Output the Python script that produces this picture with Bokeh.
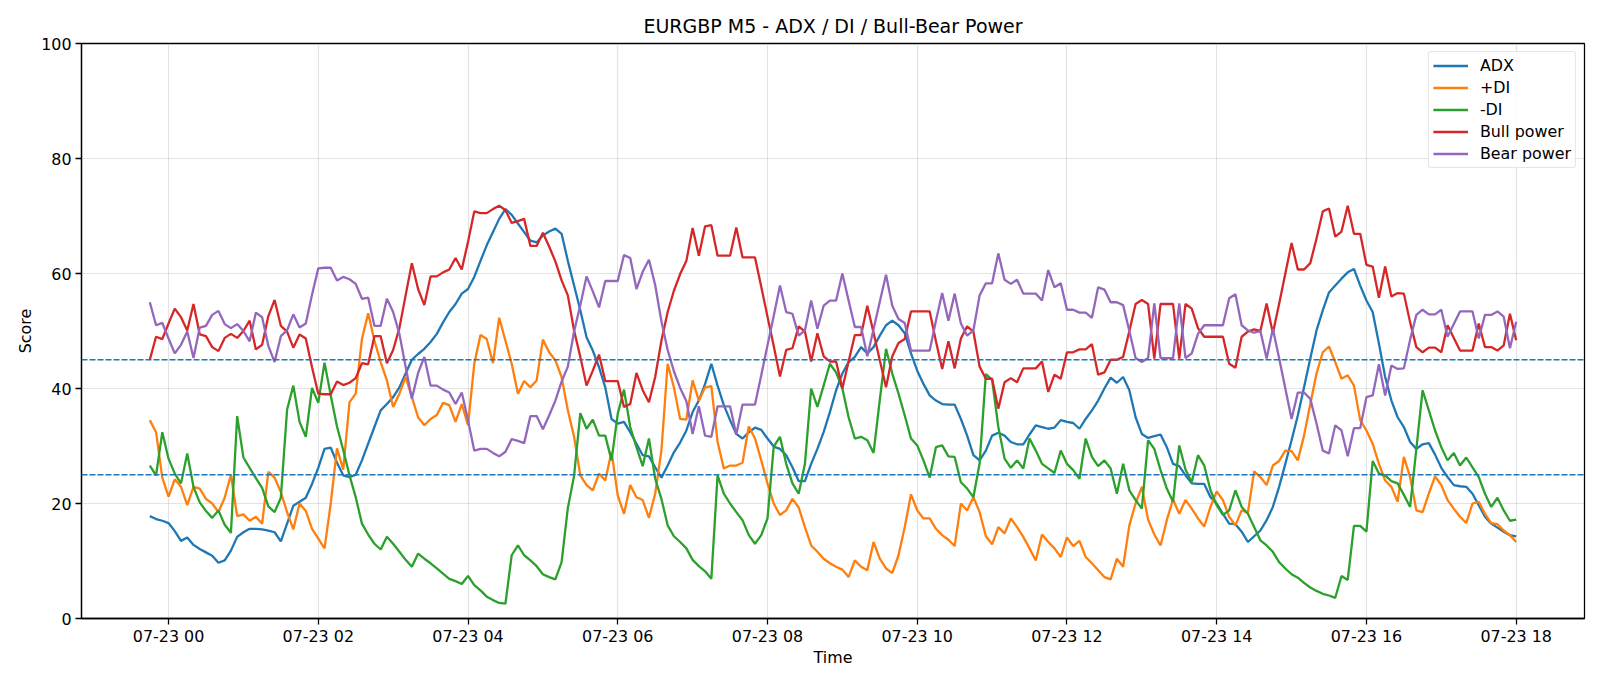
import pandas as pd
from bokeh.plotting import figure
from bokeh.models import (ColumnDataSource, Range1d, FixedTicker, DatetimeTickFormatter,
                          Span, Legend, LegendItem)
from bokeh.embed import file_html
from bokeh.resources import INLINE

# ---------------- data (5-minute bars, 07-22 23:45 .. 07-23 18:00) ----------------
start_time = "2025-07-22 23:45"
n_points = 220

adx = [
    17.8, 17.3, 17.0, 16.6, 15.2, 13.5, 14.1, 12.8, 12.1, 11.5, 10.9, 9.7, 10.1, 11.8, 14.2, 15.0, 15.6, 15.6, 15.5, 15.3, 15.0,
    13.4, 16.5, 19.6, 20.3, 21.0, 23.4, 26.2, 29.5, 29.7, 27.1, 24.9, 24.6, 25.0, 27.5, 30.4, 33.3, 36.2, 37.3, 38.5, 40.2, 42.6, 45.0, 46.0,
    46.9, 48.1, 49.5, 51.5, 53.3, 54.7, 56.5, 57.3, 59.4, 62.2, 64.9, 67.2, 69.5, 71.2, 70.2, 68.7, 67.2, 65.7, 65.4, 66.6, 67.3, 67.8,
    66.9, 62.2, 57.9, 53.6, 48.9, 46.6, 43.7, 40.2, 34.7, 33.9, 34.2, 32.4, 30.4, 28.4, 28.2, 26.3, 24.5, 26.6, 28.9, 30.6, 32.7, 35.9, 37.9,
    40.8, 44.3, 40.5, 37.1, 34.5, 32.1, 31.3, 32.4, 33.2, 32.8, 31.3, 29.9, 29.5, 28.4, 26.3, 23.9, 23.9, 26.9, 29.5, 32.4, 35.9, 39.7,
    42.6, 44.6, 45.5, 47.2, 46.1, 47.2, 49.2, 51.0, 51.8, 51.0, 49.6, 46.1, 43.1, 40.8, 38.8, 37.9, 37.3, 37.2, 37.2, 34.7, 31.8, 28.4, 27.5,
    29.2, 31.8, 32.3, 31.8, 30.7, 30.3, 30.3, 32.0, 33.6, 33.3, 33.0, 33.2, 34.5, 34.2, 34.0, 33.0, 34.7, 36.2, 37.9, 40.0, 41.9, 41.0,
    42.0, 39.7, 35.0, 32.1, 31.4, 31.7, 32.0, 29.8, 26.9, 26.5, 24.9, 23.5, 23.4, 23.4, 21.1, 20.0, 18.2, 16.5, 16.4, 15.1, 13.3, 14.3, 15.3,
    17.1, 19.4, 22.9, 26.9, 31.0, 35.3, 40.2, 45.2, 50.1, 53.6, 56.7, 57.9, 59.1, 60.2, 60.8, 57.9, 55.3, 53.3, 47.8, 42.0, 37.9, 35.0,
    33.3, 30.7, 29.5, 30.3, 30.5, 28.5, 26.2, 24.6, 23.2, 23.0, 22.9, 21.7, 19.7, 17.7, 16.5, 15.8, 15.1, 14.5, 14.3,
]

plus_di = [
    34.5, 32.4, 24.5, 21.2, 24.2, 22.9, 19.7, 22.9, 22.6, 20.8, 20.0, 18.5, 21.0, 25.0, 17.8, 18.1, 17.0, 17.7, 16.5, 25.5, 24.5,
    22.0, 18.5, 15.5, 20.0, 18.7, 15.6, 13.9, 12.2, 20.0, 29.6, 25.9, 37.6, 39.1, 48.6, 53.1, 48.3, 44.6, 41.4, 36.8, 39.1, 42.0, 38.5, 35.0,
    33.6, 34.7, 35.4, 37.5, 37.1, 34.2, 37.3, 33.6, 44.3, 49.3, 48.6, 44.4, 52.3, 48.3, 44.3, 39.1, 41.3, 40.2, 41.4, 48.5, 46.3, 44.9,
    42.0, 36.2, 31.6, 24.9, 23.2, 22.3, 25.2, 24.0, 29.0, 21.4, 18.2, 23.2, 21.1, 20.6, 17.5, 21.7, 29.2, 44.3, 40.2, 34.7, 34.6, 41.4, 37.9,
    40.2, 40.4, 30.7, 26.1, 26.6, 26.6, 27.1, 33.4, 31.3, 27.5, 23.5, 20.0, 18.0, 18.8, 20.8, 19.3, 15.9, 12.7, 11.6, 10.4, 9.6, 9.0,
    8.5, 7.2, 10.1, 9.0, 8.4, 13.3, 10.4, 8.7, 7.9, 11.0, 15.9, 21.6, 18.8, 17.4, 17.4, 15.6, 14.5, 13.7, 12.6, 20.0, 18.8, 21.1, 18.5,
    14.3, 12.9, 15.9, 14.8, 17.4, 15.9, 14.2, 12.2, 10.1, 14.6, 13.3, 12.2, 10.7, 14.1, 12.6, 13.5, 10.7, 9.6, 8.4, 7.2, 6.8, 10.4,
    9.0, 16.2, 20.0, 22.9, 17.2, 14.6, 12.7, 17.1, 20.7, 18.2, 20.6, 19.1, 17.4, 16.0, 19.4, 22.1, 20.6, 17.7, 16.2, 18.8, 18.4, 25.6, 24.6,
    23.2, 26.6, 27.4, 29.2, 29.1, 27.5, 31.8, 37.3, 42.6, 46.3, 47.3, 44.6, 41.7, 42.3, 40.5, 34.5, 32.7, 30.4, 26.9, 24.0, 22.9, 20.3,
    28.1, 24.6, 18.8, 18.5, 21.7, 24.7, 23.2, 20.6, 19.1, 17.7, 16.6, 20.0, 20.3, 18.2, 16.6, 16.4, 15.3, 14.5, 13.3,
]

minus_di = [
    26.6, 24.9, 32.4, 27.8, 25.2, 23.5, 28.7, 22.9, 20.2, 18.7, 17.5, 18.8, 16.3, 14.9, 35.2, 28.0, 26.2, 24.4, 22.7, 19.5, 18.5,
    21.0, 36.3, 40.5, 34.2, 31.6, 40.1, 37.5, 44.5, 38.8, 33.4, 29.3, 24.9, 21.1, 16.5, 14.6, 13.0, 12.0, 14.2, 13.0, 11.6, 10.2, 9.0, 11.3,
    10.4, 9.6, 8.7, 7.8, 6.9, 6.5, 6.0, 7.4, 5.8, 4.9, 3.8, 3.2, 2.7, 2.6, 11.0, 12.7, 11.0, 10.1, 9.1, 7.7, 7.2, 6.8,
    9.8, 19.2, 24.8, 35.7, 33.0, 34.6, 31.8, 31.8, 27.5, 35.6, 39.8, 33.3, 29.8, 26.5, 31.3, 24.3, 20.8, 16.2, 14.3, 13.3, 12.2, 10.2, 9.1,
    8.2, 6.9, 24.9, 21.7, 20.0, 18.5, 17.1, 14.5, 13.0, 14.5, 17.4, 29.9, 31.6, 26.9, 23.5, 21.7, 26.9, 40.0, 36.8, 40.5, 44.3, 42.8,
    40.0, 35.0, 31.3, 31.6, 31.0, 28.8, 38.0, 46.9, 42.6, 39.1, 35.3, 31.3, 30.1, 27.5, 24.5, 29.8, 30.1, 28.2, 28.1, 23.7, 22.6, 21.1, 27.0,
    42.5, 41.5, 33.3, 27.8, 26.2, 27.5, 26.1, 31.3, 29.2, 26.9, 26.1, 25.3, 29.2, 26.9, 25.8, 24.3, 31.3, 28.1, 26.5, 27.5, 26.1, 21.7,
    26.9, 22.3, 20.6, 19.1, 31.0, 29.5, 25.8, 22.6, 20.3, 30.1, 25.9, 23.7, 28.4, 26.6, 22.3, 19.7, 18.0, 18.8, 22.3, 19.4, 18.2, 15.9, 13.6,
    12.7, 11.6, 9.8, 8.7, 7.7, 7.1, 6.2, 5.4, 4.8, 4.3, 4.0, 3.6, 7.4, 6.7, 16.1, 16.1, 15.1, 27.4, 25.2, 24.9, 23.9, 23.5,
    21.5, 19.4, 29.5, 39.7, 36.2, 32.7, 29.8, 27.5, 28.8, 26.6, 28.0, 26.3, 24.6, 21.7, 19.4, 21.0, 18.8, 17.0, 17.2,
]

bull_power = [
    45.0, 49.0, 48.6, 51.3, 53.9, 52.4, 50.1, 54.7, 49.4, 49.1, 47.2, 46.5, 48.8, 49.5, 48.8, 50.0, 51.8, 46.8, 47.6, 52.6, 55.4,
    50.9, 49.9, 47.1, 49.4, 48.7, 43.7, 39.1, 39.0, 39.0, 41.2, 40.6, 41.0, 41.8, 44.4, 44.2, 49.1, 49.1, 44.4, 46.7, 50.5, 56.2, 61.8, 57.3,
    54.5, 59.5, 59.5, 60.2, 60.7, 62.7, 60.7, 65.5, 70.8, 70.5, 70.5, 71.2, 71.8, 71.0, 68.8, 69.1, 69.5, 64.8, 64.8, 67.1, 64.7, 62.1,
    58.8, 56.2, 50.1, 45.5, 40.5, 43.1, 45.9, 41.3, 41.3, 41.3, 36.8, 37.3, 42.7, 39.7, 37.6, 42.0, 48.3, 53.3, 57.0, 59.9, 62.2, 67.9, 63.1,
    68.2, 68.4, 63.1, 63.1, 63.1, 68.0, 62.8, 62.8, 62.8, 57.7, 52.5, 47.4, 42.1, 46.7, 47.0, 50.8, 49.9, 44.7, 49.6, 45.6, 44.7, 44.7,
    40.0, 44.7, 49.3, 49.3, 54.4, 49.7, 44.9, 40.2, 45.6, 47.9, 48.6, 53.4, 53.4, 53.4, 53.4, 48.2, 43.4, 48.2, 43.5, 48.7, 50.8, 49.9, 43.8,
    41.7, 41.7, 36.5, 41.1, 41.8, 41.1, 43.5, 43.5, 43.5, 44.7, 39.4, 42.4, 41.7, 46.3, 46.3, 46.8, 46.8, 47.7, 42.4, 42.8, 45.0, 45.0,
    45.5, 50.0, 54.7, 55.4, 54.7, 45.2, 54.7, 54.7, 54.7, 45.2, 54.7, 53.9, 50.5, 49.0, 49.0, 49.0, 49.0, 44.3, 43.6, 49.0, 49.9, 50.3, 50.0,
    54.8, 49.6, 54.7, 60.0, 65.3, 60.7, 60.7, 61.8, 66.1, 70.8, 71.3, 66.4, 67.3, 71.8, 66.9, 66.9, 61.5, 61.2, 55.8, 61.2, 56.0, 56.6,
    56.5, 51.5, 47.2, 46.3, 47.1, 47.1, 46.3, 51.0, 48.8, 46.6, 46.6, 46.6, 51.3, 47.2, 47.2, 46.6, 47.5, 53.0, 48.4,
]

bear_power = [
    55.0, 51.0, 51.4, 48.7, 46.1, 47.6, 49.9, 45.3, 50.6, 50.9, 52.8, 53.5, 51.2, 50.5, 51.2, 50.0, 48.2, 53.2, 52.4, 47.4, 44.6,
    49.1, 50.1, 52.9, 50.6, 51.3, 56.3, 60.9, 61.0, 61.0, 58.8, 59.4, 59.0, 58.2, 55.6, 55.8, 50.9, 50.9, 55.6, 53.3, 49.5, 43.8, 38.2, 42.7,
    45.5, 40.5, 40.5, 39.8, 39.3, 37.3, 39.3, 34.5, 29.2, 29.5, 29.5, 28.8, 28.2, 29.0, 31.2, 30.9, 30.5, 35.2, 35.2, 32.9, 35.3, 37.9,
    41.2, 43.8, 49.9, 54.5, 59.5, 56.9, 54.1, 58.7, 58.7, 58.7, 63.2, 62.7, 57.3, 60.3, 62.4, 58.0, 51.7, 46.7, 43.0, 40.1, 37.8, 32.1, 36.9,
    31.8, 31.6, 36.9, 36.9, 36.9, 32.0, 37.2, 37.2, 37.2, 42.3, 47.5, 52.6, 57.9, 53.3, 53.0, 49.2, 50.1, 55.3, 50.4, 54.4, 55.3, 55.3,
    60.0, 55.3, 50.7, 50.7, 45.6, 50.3, 55.1, 59.8, 54.4, 52.1, 51.4, 46.6, 46.6, 46.6, 46.6, 51.8, 56.6, 51.8, 56.5, 51.3, 49.2, 50.1, 56.2,
    58.3, 58.3, 63.5, 58.9, 58.2, 58.9, 56.5, 56.5, 56.5, 55.3, 60.6, 57.6, 58.3, 53.7, 53.7, 53.2, 53.2, 52.3, 57.6, 57.2, 55.0, 55.0,
    54.5, 50.0, 45.3, 44.6, 45.3, 54.8, 45.3, 45.3, 45.3, 54.8, 45.3, 46.1, 49.5, 51.0, 51.0, 51.0, 51.0, 55.7, 56.4, 51.0, 50.1, 49.7, 50.0,
    45.2, 50.4, 45.3, 40.0, 34.7, 39.3, 39.3, 38.2, 33.9, 29.2, 28.7, 33.6, 32.7, 28.2, 33.1, 33.1, 38.5, 38.8, 44.2, 38.8, 44.0, 43.4,
    43.5, 48.5, 52.8, 53.7, 52.9, 52.9, 53.7, 49.0, 51.2, 53.4, 53.4, 53.4, 48.7, 52.8, 52.8, 53.4, 52.5, 47.0, 51.6,
]

series_names = ["ADX", "+DI", "-DI", "Bull power", "Bear power"]
series_colors = ["#1f77b4", "#ff7f0e", "#2ca02c", "#d62728", "#9467bd"]
threshold_levels = [45, 25]
y_ticks = [0, 20, 40, 60, 80, 100]
x_tick_hours = ["2025-07-23 %02d:00" % h for h in range(0, 19, 2)]

# ---------------- figure ----------------
times = pd.date_range(start_time, periods=n_points, freq="5min")
src = ColumnDataSource(dict(t=times, adx=adx, pdi=plus_di, mdi=minus_di,
                            bull=bull_power, bear=bear_power))

span = times[-1] - times[0]
FONT = "DejaVu Sans"
FS = "15.9px"

p = figure(width=1600, height=686, x_axis_type="datetime", output_backend="svg",
           toolbar_location=None,
           x_range=Range1d(times[0] - span * 0.05, times[-1] + span * 0.05),
           y_range=Range1d(0, 100),
           min_border_left=81, min_border_right=16, min_border_top=43, min_border_bottom=68,
           title="EURGBP M5 - ADX / DI / Bull-Bear Power")
p.background_fill_color = "white"
p.border_fill_color = "white"
p.outline_line_color = "black"
p.outline_line_width = 1.27

p.title.align = "center"
p.title.text_font = FONT
p.title.text_font_size = "19px"
p.title.text_font_style = "normal"
p.title.text_color = "black"
p.title.standoff = 13

tick_ms = [pd.Timestamp(s).value / 1e6 for s in x_tick_hours]
p.xaxis.ticker = FixedTicker(ticks=tick_ms)
fmt = "%m-%d %H"
p.xaxis.formatter = DatetimeTickFormatter(microseconds=fmt, milliseconds=fmt, seconds=fmt,
                                          minsec=fmt, minutes=fmt, hourmin=fmt, hours=fmt,
                                          days=fmt, months=fmt, years=fmt)
p.yaxis.ticker = FixedTicker(ticks=y_ticks)

for ax in (p.xaxis, p.yaxis):
    ax.axis_line_color = "black"
    ax.axis_line_width = 1.27
    ax.major_tick_line_color = "black"
    ax.major_tick_line_width = 1.27
    ax.major_tick_in = 0
    ax.major_tick_out = 6
    ax.minor_tick_line_color = None
    ax.major_label_text_font = FONT
    ax.major_label_text_font_size = FS
    ax.major_label_text_color = "black"
    ax.major_label_standoff = 4
    ax.axis_label_text_font = FONT
    ax.axis_label_text_font_size = FS
    ax.axis_label_text_font_style = "normal"
    ax.axis_label_text_color = "black"

p.xaxis.major_label_standoff = 2
p.xaxis.axis_label = "Time"
p.yaxis.axis_label = "Score"
p.xaxis.axis_label_standoff = -1
p.yaxis.axis_label_standoff = 3

for g in (p.xgrid, p.ygrid):
    g.grid_line_color = "#b0b0b0"
    g.grid_line_alpha = 0.35
    g.grid_line_width = 1.1

cols = ["adx", "pdi", "mdi", "bull", "bear"]
items = []
for col, name, color in zip(cols, series_names, series_colors):
    r = p.line("t", col, source=src, line_color=color, line_width=2.3)
    items.append(LegendItem(label=name, renderers=[r]))

for lvl in threshold_levels:
    p.add_layout(Span(location=lvl, dimension="width", line_color="#1f77b4",
                      line_dash="6 2", line_width=1.6))

legend = Legend(items=items, location="top_right")
legend.label_text_font = FONT
legend.label_text_font_size = FS
legend.label_text_color = "black"
legend.glyph_width = 35
legend.glyph_height = 15
legend.label_height = 15
legend.label_standoff = 12
legend.spacing = 3
legend.padding = 4
legend.margin = 8
legend.border_line_color = "#cccccc"
legend.border_line_width = 1
legend.border_radius = 3
legend.background_fill_alpha = 0.8
p.add_layout(legend)

open("out.html", "w").write(file_html(p, INLINE))
